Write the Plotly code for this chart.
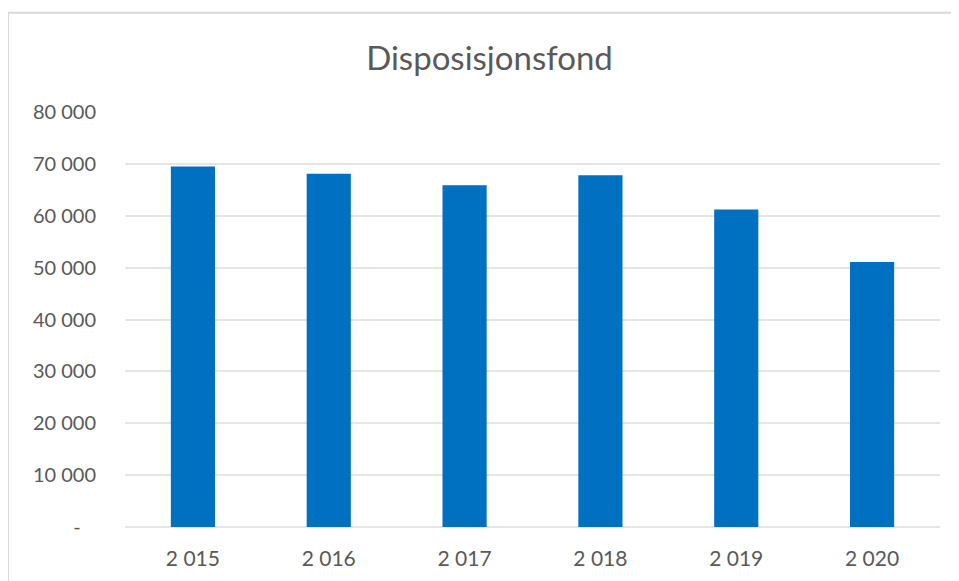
import plotly.graph_objects as go

years = ["2 015", "2 016", "2 017", "2 018", "2 019", "2 020"]
values = [69500, 68100, 65900, 67800, 61200, 51100]
ytick_vals = [0, 10000, 20000, 30000, 40000, 50000, 60000, 70000, 80000]
ytick_text = ["-\u00a0\u00a0\u00a0", "10 000", "20 000", "30 000", "40 000", "50 000", "60 000", "70 000", "80 000"]

# The page body has an 8px default margin; work in page coordinates and shift.
OFF = 8
W, H = 959 - OFF, 581 - OFF
L, R = 125 - OFF, 940 - OFF
T, B = 111.7 - OFF, 526.7 - OFF
pw, ph = R - L, B - T

def px(x):
    return (x - OFF - L) / pw

def py(y):
    return (B - (y - OFF)) / ph

FONT = "Lato, Open Sans, sans-serif"

fig = go.Figure(go.Bar(x=years, y=values, marker=dict(color="#0070C0", line=dict(width=0)), width=0.325))

fig.update_layout(
    width=W, height=H,
    margin=dict(l=L, r=W - R, t=T, b=H - B, pad=0),
    paper_bgcolor="white", plot_bgcolor="white",
    font=dict(family=FONT, color="#595959"),
    title=dict(text="Disposisjonsfond", xref="container", x=(489.5 - OFF) / W, xanchor="center",
               yref="container", y=1 - (58 - OFF) / H, yanchor="middle",
               font=dict(size=33, color="#595959", family=FONT)),
    showlegend=False,
    xaxis=dict(showgrid=False, showline=False, ticks="", ticklabelstandoff=17,
               tickfont=dict(size=21, color="#595959")),
    yaxis=dict(range=[0, 80000], tickvals=ytick_vals, ticktext=ytick_text, showgrid=True,
               gridcolor="#e5e5e5", gridwidth=1.5, zeroline=True, zerolinecolor="#e5e5e5", zerolinewidth=1.5,
               ticks="", showline=False, ticklabelstandoff=28, tickfont=dict(size=20, color="#595959")),
    shapes=[
        dict(type="line", xref="paper", yref="paper", x0=px(8), x1=px(8), y0=py(12.5), y1=py(600),
             line=dict(color="#d9d9d9", width=2)),
        dict(type="line", xref="paper", yref="paper", x0=px(8), x1=px(970), y0=py(12.5), y1=py(12.5),
             line=dict(color="#d9d9d9", width=2)),
    ],
)

fig.write_html("out.html")
